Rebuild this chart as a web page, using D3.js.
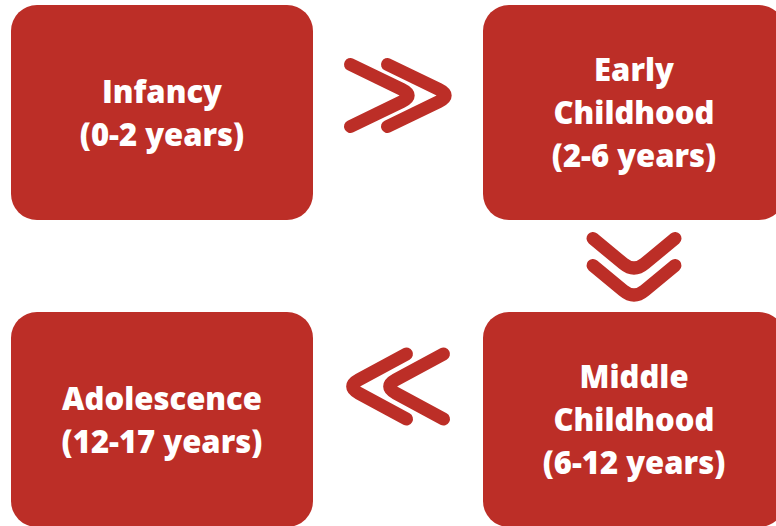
<!DOCTYPE html>
<html>
<head>
<meta charset="utf-8">
<script src="https://cdn.jsdelivr.net/npm/d3@7"></script>
<style>
  html, body { margin: 0; padding: 0; background: #ffffff; }
  svg { display: block; }
</style>
</head>
<body>
<svg id="chart" width="776" height="526"></svg>
<script>
// ---- data ----
const stages = ["Infancy", "Early Childhood", "Middle Childhood", "Adolescence"];
const stageLines = [["Infancy"], ["Early", "Childhood"], ["Middle", "Childhood"], ["Adolescence"]];
const ageRanges = ["(0-2 years)", "(2-6 years)", "(6-12 years)", "(12-17 years)"];
// grid slot of each stage (snake order)
const stageCol = [0, 1, 1, 0];
const stageRow = [0, 0, 1, 1];
// arrows between consecutive stages
const arrowFrom = [0, 1, 2];
const arrowTo = [1, 2, 3];

// ---- layout ----
const W = 776, H = 526;
const color = "#bc2e27";
const boxW = 302, boxH = 215;

const x = d3.scalePoint().domain([0, 1]).range([11, 483]);
const y = d3.scalePoint().domain([0, 1]).range([5, 312]);

const svg = d3.select("#chart");

const nodes = stages.map((s, i) => ({
  name: s,
  lines: stageLines[i].concat([ageRanges[i]]),
  x0: x(stageCol[i]),
  y0: y(stageRow[i]),
  cx: x(stageCol[i]) + boxW / 2,
  cy: y(stageRow[i]) + boxH / 2
}));

const g = svg.selectAll("g.node").data(nodes).join("g").attr("class", "node");
g.append("rect")
  .attr("x", d => d.x0).attr("y", d => d.y0)
  .attr("width", boxW).attr("height", boxH)
  .attr("rx", 26).attr("ry", 26)
  .attr("fill", color);

const lineH = 43;
g.each(function(d) {
  const n = d.lines.length;
  d3.select(this).selectAll("text").data(d.lines).join("text")
    .attr("x", d.cx)
    .attr("y", (t, i) => d.cy + (i - (n - 1) / 2) * lineH + 11.5)
    .attr("text-anchor", "middle")
    .attr("fill", "#ffffff")
    .style("font-family", "'Open Sans', sans-serif")
    .style("font-weight", 800)
    .style("font-size", "31px")
    .text(t => t);
});

// ---- arrows (double chevrons) ----
function chevronPath(cx, cy, dx, dy, depth, half, r) {
  const px = -dy, py = dx;
  const ax = cx + dx * depth / 2, ay = cy + dy * depth / 2;
  const e1x = cx - dx * depth / 2 + px * half, e1y = cy - dy * depth / 2 + py * half;
  const e2x = cx - dx * depth / 2 - px * half, e2y = cy - dy * depth / 2 - py * half;
  const l1 = Math.hypot(ax - e1x, ay - e1y);
  const l2 = Math.hypot(ax - e2x, ay - e2y);
  const p1x = ax + (e1x - ax) * r / l1, p1y = ay + (e1y - ay) * r / l1;
  const p2x = ax + (e2x - ax) * r / l2, p2y = ay + (e2y - ay) * r / l2;
  const p = d3.path();
  p.moveTo(e1x, e1y);
  p.lineTo(p1x, p1y);
  p.quadraticCurveTo(ax, ay, p2x, p2y);
  p.lineTo(e2x, e2y);
  return p.toString();
}

const arrows = arrowFrom.map((a, i) => {
  const A = nodes[a], B = nodes[arrowTo[i]];
  if (A.y0 === B.y0) {
    const right = B.cx > A.cx;
    const left = Math.min(A.x0, B.x0) + boxW, rightEdge = Math.max(A.x0, B.x0);
    const mx = (left + rightEdge) / 2;
    return right
      ? { cx: mx + 3, cy: A.cy - 17, dx: 1, dy: 0, depth: 64, half: 31, gap: 37 }
      : { cx: mx - 3, cy: A.cy - 33, dx: -1, dy: 0, depth: 60, half: 32.5, gap: 37 };
  } else {
    const top = Math.min(A.y0, B.y0) + boxH, bottom = Math.max(A.y0, B.y0);
    const my = (top + bottom) / 2;
    return { cx: A.cx, cy: my + 3, dx: 0, dy: 1, depth: 34, half: 41, gap: 27 };
  }
});

arrows.forEach(a => {
  [-0.5, 0.5].forEach(k => {
    svg.append("path")
      .attr("d", chevronPath(a.cx + a.dx * a.gap * k, a.cy + a.dy * a.gap * k, a.dx, a.dy, a.depth, a.half, 14))
      .attr("fill", "none")
      .attr("stroke", color)
      .attr("stroke-width", 13)
      .attr("stroke-linecap", "round")
      .attr("stroke-linejoin", "round");
  });
});
</script>
</body>
</html>
